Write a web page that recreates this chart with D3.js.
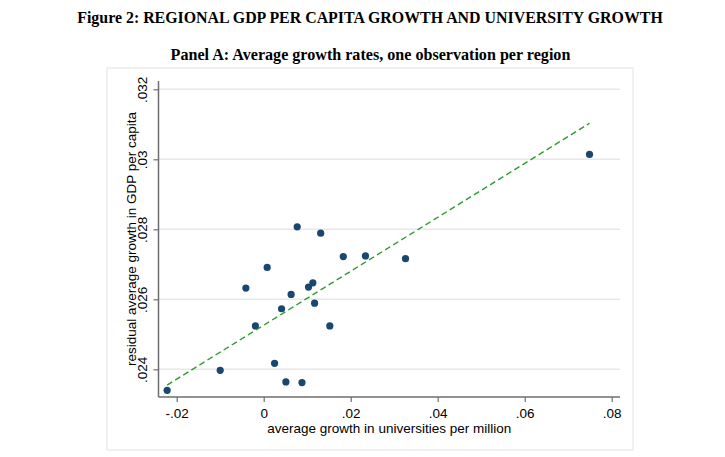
<!DOCTYPE html>
<html><head><meta charset="utf-8">
<script src="https://cdn.jsdelivr.net/npm/d3@7"></script>
<style>body{margin:0;background:#fff;} svg{display:block;}</style>
</head><body>
<svg id="c" width="725" height="457"></svg>
<script>
const xVals = [-0.0222, -0.0100, -0.0041, -0.0019, 0.0008, 0.0025, 0.0041, 0.0051, 0.0063, 0.0077, 0.0088, 0.0103, 0.0113, 0.0117, 0.0131, 0.0152, 0.0183, 0.0234, 0.0326, 0.0749];
const yVals = [0.02340, 0.02397, 0.02632, 0.02524, 0.02691, 0.02417, 0.02573, 0.02364, 0.02614, 0.02807, 0.02362, 0.02635, 0.02647, 0.02589, 0.02789, 0.02524, 0.02722, 0.02724, 0.02716, 0.03014];
const fitX = [-0.0222, 0.0749];
const fitY = [0.02355, 0.03103];
const xTicks = [-0.02, 0, 0.02, 0.04, 0.06, 0.08];
const xTickLabels = ["-.02", "0", ".02", ".04", ".06", ".08"];
const yTicks = [0.024, 0.026, 0.028, 0.030, 0.032];
const yTickLabels = [".024", ".026", ".028", ".03", ".032"];
const title = "Figure 2: REGIONAL GDP PER CAPITA GROWTH AND UNIVERSITY GROWTH";
const subtitle = "Panel A: Average growth rates, one observation per region";
const xTitle = "average growth in universities per million";
const yTitle = "residual average growth in GDP per capita";

const svg = d3.select("#c");
const x = d3.scaleLinear().domain([0, 0.08]).range([263.7, 611.7]);
const y = d3.scaleLinear().domain([0.024, 0.032]).range([369.3, 89.3]);
const plotL = 158.5, plotR = 620, plotT = 81, plotB = 397;

// graph region border
svg.append("rect").attr("x", 107).attr("y", 68).attr("width", 526).attr("height", 382)
  .attr("fill", "#fff").attr("stroke", "#ececec").attr("stroke-width", 1.5);

svg.append("text").attr("x", 370).attr("y", 23).attr("text-anchor", "middle")
  .attr("font-family", "Liberation Serif, Times New Roman, serif").attr("font-weight", "bold")
  .attr("font-size", 15.9).text(title);
svg.append("text").attr("x", 370.5).attr("y", 60).attr("text-anchor", "middle")
  .attr("font-family", "Liberation Serif, Times New Roman, serif").attr("font-weight", "bold")
  .attr("font-size", 16.1).text(subtitle);

// gridlines
svg.append("g").selectAll("line").data(yTicks).join("line")
  .attr("x1", plotL).attr("x2", plotR).attr("y1", d => y(d)).attr("y2", d => y(d))
  .attr("stroke", "#e8e8e8").attr("stroke-width", 1.5);

// axes
const xAxis = d3.axisBottom(x).tickValues(xTicks).tickFormat((d, i) => xTickLabels[i]).tickSize(5).tickSizeOuter(0);
const gx = svg.append("g").attr("transform", `translate(0,${plotB})`).call(xAxis);
gx.select(".domain").attr("d", `M${plotL},0H${plotR}`).attr("stroke", "#6e6e6e").attr("stroke-width", 1.5);
gx.selectAll(".tick line").attr("stroke", "#6e6e6e").attr("stroke-width", 1.2);
gx.selectAll(".tick text").attr("font-family", "Liberation Sans, Arial, sans-serif").attr("font-size", 13.5)
  .attr("fill", "#000").attr("dy", "0").attr("y", 21);

const yAxis = d3.axisLeft(y).tickValues(yTicks).tickFormat((d, i) => yTickLabels[i]).tickSize(5).tickSizeOuter(0);
const gy = svg.append("g").attr("transform", `translate(${plotL},0)`).call(yAxis);
gy.select(".domain").attr("d", `M0,${plotT}V${plotB}`).attr("stroke", "#6e6e6e").attr("stroke-width", 1.5);
gy.selectAll(".tick line").attr("stroke", "#6e6e6e").attr("stroke-width", 1.2);
gy.selectAll(".tick text").attr("font-family", "Liberation Sans, Arial, sans-serif").attr("font-size", 13.5)
  .attr("fill", "#000").attr("x", null).attr("dy", null)
  .attr("text-anchor", "middle").attr("transform", "translate(-11.5,0) rotate(-90)").attr("y", 0);
svg.selectAll(".domain").attr("fill", "none");

// axis titles
svg.append("text").attr("x", (plotL + plotR) / 2).attr("y", 433).attr("text-anchor", "middle")
  .attr("font-family", "Liberation Sans, Arial, sans-serif").attr("font-size", 13.5).text(xTitle);
svg.append("text").attr("transform", `translate(136,${(plotT + plotB) / 2}) rotate(-90)`).attr("text-anchor", "middle")
  .attr("font-family", "Liberation Sans, Arial, sans-serif").attr("font-size", 13.5).text(yTitle);

// points
const pts = xVals.map((d, i) => [d, yVals[i]]);
svg.append("g").selectAll("circle").data(pts).join("circle")
  .attr("cx", d => x(d[0])).attr("cy", d => y(d[1])).attr("r", 3.6).attr("fill", "#1a476f");

// fit line
svg.append("line").attr("x1", x(fitX[0])).attr("y1", y(fitY[0])).attr("x2", x(fitX[1])).attr("y2", y(fitY[1]))
  .attr("stroke", "#2f9a2f").attr("stroke-width", 1.4).attr("stroke-dasharray", "6,3.5");
</script>
</body></html>
